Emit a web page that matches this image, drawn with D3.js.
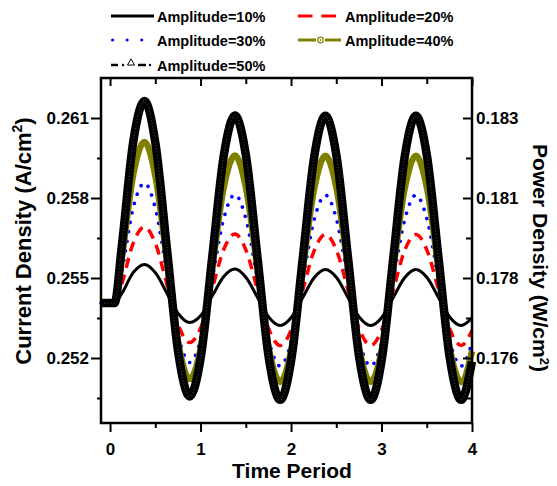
<!DOCTYPE html>
<html><head><meta charset="utf-8">
<script src="https://cdn.jsdelivr.net/npm/d3@7"></script>
<style>
body{margin:0;background:#fff}
svg{display:block}
text{font-family:"Liberation Sans",Arial,Helvetica,sans-serif;font-weight:bold;fill:#000}
</style>
</head><body>
<svg id="chart" width="557" height="486"></svg>
<script>
// ---- data ----
const timePeriod = [-0.1, 0.05, 0.13, 0.255, 0.38, 0.505, 0.63, 0.755, 0.88, 1.005, 1.13, 1.255, 1.38, 1.505, 1.63, 1.755, 1.88, 2.005, 2.13, 2.255, 2.38, 2.505, 2.63, 2.755, 2.88, 3.005, 3.13, 3.255, 3.38, 3.505, 3.63, 3.755, 3.88, 4.0];
const amp10 = [0.25406, 0.25406, 0.25442, 0.25520, 0.25551, 0.25518, 0.25442, 0.25366, 0.25333, 0.25360, 0.25433, 0.25505, 0.25534, 0.25501, 0.25427, 0.25353, 0.25322, 0.25353, 0.25427, 0.25501, 0.25532, 0.25501, 0.25427, 0.25353, 0.25322, 0.25353, 0.25427, 0.25501, 0.25532, 0.25501, 0.25427, 0.25353, 0.25322, 0.25350];
const amp20 = [0.25406, 0.25406, 0.25478, 0.25630, 0.25691, 0.25626, 0.25474, 0.25323, 0.25258, 0.25316, 0.25461, 0.25606, 0.25665, 0.25602, 0.25455, 0.25308, 0.25247, 0.25308, 0.25455, 0.25602, 0.25663, 0.25602, 0.25455, 0.25308, 0.25247, 0.25308, 0.25455, 0.25602, 0.25663, 0.25602, 0.25455, 0.25308, 0.25247, 0.25303];
const amp30 = [0.25406, 0.25406, 0.25524, 0.25762, 0.25856, 0.25755, 0.25517, 0.25283, 0.25183, 0.25274, 0.25496, 0.25721, 0.25813, 0.25717, 0.25491, 0.25264, 0.25170, 0.25264, 0.25491, 0.25717, 0.25811, 0.25717, 0.25491, 0.25264, 0.25170, 0.25264, 0.25491, 0.25717, 0.25811, 0.25717, 0.25491, 0.25264, 0.25170, 0.25257];
const amp40 = [0.25406, 0.25406, 0.25575, 0.25886, 0.26010, 0.25875, 0.25564, 0.25253, 0.25121, 0.25242, 0.25539, 0.25837, 0.25959, 0.25833, 0.25534, 0.25234, 0.25110, 0.25234, 0.25534, 0.25833, 0.25958, 0.25833, 0.25534, 0.25234, 0.25110, 0.25234, 0.25534, 0.25833, 0.25958, 0.25833, 0.25534, 0.25234, 0.25110, 0.25225];
const amp50 = [0.25406, 0.25406, 0.25620, 0.26008, 0.26164, 0.25997, 0.25605, 0.25217, 0.25056, 0.25208, 0.25581, 0.25955, 0.26109, 0.25952, 0.25575, 0.25199, 0.25043, 0.25199, 0.25575, 0.25952, 0.26108, 0.25952, 0.25575, 0.25199, 0.25043, 0.25199, 0.25575, 0.25952, 0.26108, 0.25952, 0.25575, 0.25199, 0.25043, 0.25187];
const seriesNames = ["Amplitude=10%", "Amplitude=20%", "Amplitude=30%", "Amplitude=40%", "Amplitude=50%"];

const xMajorTicks = [0, 1, 2, 3, 4];
const xMinorTicks = [0.5, 1.5, 2.5, 3.5];
const yMajorTicks = [0.252, 0.255, 0.258, 0.261];
const yMinorTicks = [0.2505, 0.2535, 0.2565, 0.2595];
const powerTickValues = [0.17575, 0.17825, 0.18075, 0.18325];
const powerTickLabels = ["0.176", "0.178", "0.181", "0.183"];
const powerMinorTicks = [0.17450, 0.17700, 0.17950, 0.18200];

// ---- layout ----
const svg = d3.select("#chart");
const L = 101, R = 472, T = 78, B = 423;
const x = d3.scaleLinear().domain([-0.1, 4]).range([L, R]);
const y = d3.scaleLinear().domain([0.2495625, 0.2625]).range([B, T]);
const yP = d3.scaleLinear().domain([0.17575, 0.18325]).range([y(0.252), y(0.261)]);

const styles = [
  {color:"#000", width:3, dash:null},
  {color:"#ff0000", width:3.5, dash:"10,7"},
  {color:"#0000ff", width:3.6, dash:"0.1,9.5", cap:"round"},
  {color:"#808000", width:6.5, dash:null},
  {color:"#000", width:8.5, dash:null}
];
const allSeries = [amp10, amp20, amp30, amp40, amp50];

const line = d3.line().x((d,i)=>x(timePeriod[i])).y(d=>y(d)).curve(d3.curveMonotoneX);

const plot = svg.append("g");
allSeries.forEach((s, k) => {
  const st = styles[k];
  plot.append("path").datum(s).attr("d", line)
    .attr("fill","none").attr("stroke", st.color).attr("stroke-width", st.width)
    .attr("stroke-dasharray", st.dash).attr("stroke-linecap", st.cap || "butt")
    .attr("stroke-linejoin","round");
  if (k === 4) {
    plot.append("path").datum(s).attr("d", line)
      .attr("fill","none").attr("stroke","#333").attr("stroke-width",1.6)
      .attr("stroke-dasharray","1,2.2");
  }
});

// ---- axes ----
function styleAxis(g){
  g.select(".domain").remove();
  g.selectAll(".tick line").attr("stroke","#000").attr("stroke-width",2);
  g.selectAll(".tick text").style("font-size","17px");
}
// frame
svg.append("rect").attr("x",L).attr("y",T).attr("width",R-L).attr("height",B-T)
  .attr("fill","none").attr("stroke","#000").attr("stroke-width",2.5);

// bottom
svg.append("g").attr("transform",`translate(0,${B})`)
  .call(d3.axisBottom(x).tickValues(xMajorTicks).tickSize(9).tickPadding(11).tickFormat(d3.format("d")))
  .call(styleAxis);
svg.append("g").attr("transform",`translate(0,${B})`)
  .call(d3.axisBottom(x).tickValues(xMinorTicks).tickSize(5).tickFormat(""))
  .call(styleAxis);
// top (ticks inward)
svg.append("g").attr("transform",`translate(0,${T})`)
  .call(d3.axisBottom(x).tickValues(xMajorTicks).tickSize(8).tickFormat(""))
  .call(styleAxis);
svg.append("g").attr("transform",`translate(0,${T})`)
  .call(d3.axisBottom(x).tickValues(xMinorTicks).tickSize(6).tickFormat(""))
  .call(styleAxis);
// left
svg.append("g").attr("transform",`translate(${L},0)`)
  .call(d3.axisLeft(y).tickValues(yMajorTicks).tickSize(10).tickPadding(2).tickFormat(d3.format(".3f")))
  .call(styleAxis);
svg.append("g").attr("transform",`translate(${L},0)`)
  .call(d3.axisLeft(y).tickValues(yMinorTicks).tickSize(4).tickFormat(""))
  .call(styleAxis);
// right (ticks inward, labels outside)
svg.append("g").attr("transform",`translate(${R},0)`)
  .call(d3.axisRight(yP).tickValues(powerTickValues).tickSizeInner(-9).tickSizeOuter(0).tickPadding(4)
    .tickFormat((d,i)=>powerTickLabels[i]))
  .call(styleAxis);
svg.append("g").attr("transform",`translate(${R},0)`)
  .call(d3.axisRight(yP).tickValues(powerMinorTicks).tickSizeInner(-6).tickSizeOuter(0).tickFormat(""))
  .call(styleAxis);

// ---- axis titles ----
svg.append("text").attr("x",(x(0)+x(4))/2 + 1).attr("y",478).attr("text-anchor","middle")
  .style("font-size","21px").text("Time Period");

const lt = svg.append("text").attr("transform","translate(31,241) rotate(-90)")
  .attr("text-anchor","middle").style("font-size","22px");
lt.append("tspan").text("Current Density (A/cm");
lt.append("tspan").attr("dy","-9").style("font-size","14px").text("2");
lt.append("tspan").attr("dy","9").text(")");

const rt = svg.append("text").attr("transform","translate(533,258) rotate(90)")
  .attr("text-anchor","middle").style("font-size","21px");
rt.append("tspan").text("Power Density (W/cm");
rt.append("tspan").attr("dy","-7").style("font-size","13px").text("2");
rt.append("tspan").attr("dy","7").text(")");

// ---- legend ----
const legend = svg.append("g");
const legPos = [[111,16],[298,16],[111,40],[298,40],[111,65]];
const legFont = "14.5px";
legPos.forEach(([lx,ly],k)=>{
  const g = legend.append("g");
  const textX = k%2===0 ? 157 : 345;
  if (k===0) {
    g.append("line").attr("x1",lx).attr("x2",lx+43).attr("y1",ly).attr("y2",ly).attr("stroke","#000").attr("stroke-width",3);
  } else if (k===1) {
    g.append("line").attr("x1",lx).attr("x2",lx+38).attr("y1",ly).attr("y2",ly).attr("stroke","#ff0000").attr("stroke-width",3).attr("stroke-dasharray","14.5,9");
  } else if (k===2) {
    g.append("line").attr("x1",lx+1.5).attr("x2",lx+32).attr("y1",ly).attr("y2",ly).attr("stroke","#0000ff").attr("stroke-width",3).attr("stroke-linecap","round").attr("stroke-dasharray","0.1,14.5");
  } else if (k===3) {
    g.append("line").attr("x1",lx).attr("x2",lx+18).attr("y1",ly).attr("y2",ly).attr("stroke","#808000").attr("stroke-width",3);
    g.append("line").attr("x1",lx+27).attr("x2",lx+43).attr("y1",ly).attr("y2",ly).attr("stroke","#808000").attr("stroke-width",3);
    g.append("circle").attr("cx",lx+22.5).attr("cy",ly).attr("r",2.8).attr("fill","#fff").attr("stroke","#808000").attr("stroke-width",1.2);
    g.append("circle").attr("cx",lx+22.5).attr("cy",ly).attr("r",0.9).attr("fill","#808000");
  } else {
    g.append("line").attr("x1",lx).attr("x2",lx+7).attr("y1",ly).attr("y2",ly).attr("stroke","#000").attr("stroke-width",2.5);
    g.append("circle").attr("cx",lx+12).attr("cy",ly).attr("r",1.2).attr("fill","#000");
    g.append("path").attr("d",d3.symbol(d3.symbolTriangle,22)()).attr("transform",`translate(${lx+20},${ly-2})`)
      .attr("fill","#fff").attr("stroke","#000").attr("stroke-width",1);
    g.append("line").attr("x1",lx+27).attr("x2",lx+35).attr("y1",ly).attr("y2",ly).attr("stroke","#000").attr("stroke-width",2.5);
    g.append("circle").attr("cx",lx+39).attr("cy",ly).attr("r",1.2).attr("fill","#000");
  }
  g.append("text").attr("x",textX).attr("y",ly+5.5).style("font-size",legFont).text(seriesNames[k]);
});
</script>
</body></html>
